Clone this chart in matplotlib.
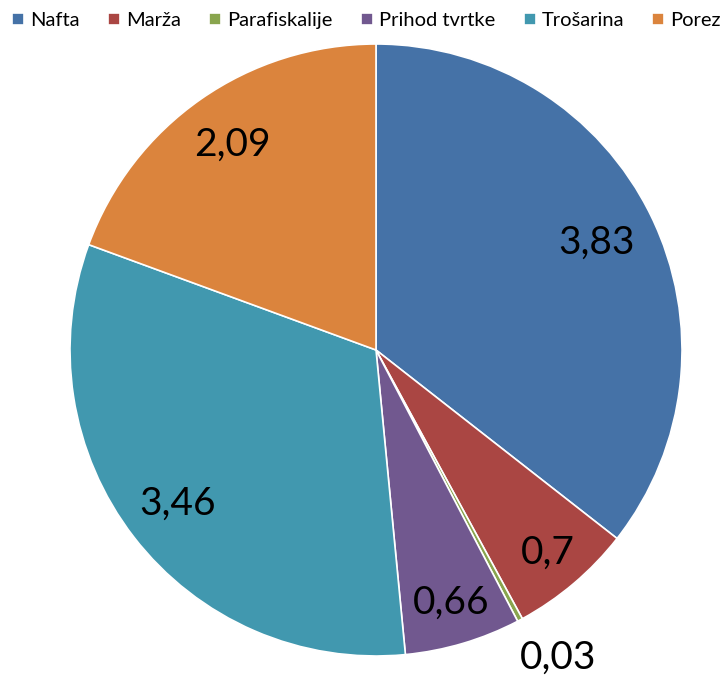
import numpy as np
import matplotlib.pyplot as plt

plt.rcParams['font.family'] = ['Lato', 'DejaVu Sans']

# slice data
categories = ['Nafta', 'Marža', 'Parafiskalije', 'Prihod tvrtke', 'Trošarina', 'Porez']
values = [3.83, 0.7, 0.03, 0.66, 3.46, 2.09]
value_labels = ['3,83', '0,7', '0,03', '0,66', '3,46', '2,09']
colors = ['#4572A7', '#AA4643', '#89A54E', '#71588F', '#4198AF', '#DB843D']
label_dist = [0.80, 0.87, 1.14, 0.86, 0.82, 0.82]
# small outside label sits a bit to the right of its thin slice
label_shift = [0, 0, 0.06, 0, 0, 0]

fig = plt.figure(figsize=(7.26, 6.75), dpi=100)
ax = fig.add_axes([70 / 726, 19 / 675, 612 / 726, 612 / 675])

wedges, _ = ax.pie(values, colors=colors, startangle=90, counterclock=False,
                   radius=1.0, wedgeprops=dict(edgecolor='white', linewidth=1.2))
ax.set_xlim(-1, 1)
ax.set_ylim(-1, 1)
ax.set_aspect('equal')

# value labels placed along each wedge's mid angle
for w, txt, d, dx in zip(wedges, value_labels, label_dist, label_shift):
    mid = np.deg2rad((w.theta1 + w.theta2) / 2)
    ax.text(d * np.cos(mid) + dx, d * np.sin(mid), txt, ha='center', va='center',
            fontsize=28, color='black', clip_on=False)

fig.legend(wedges, categories, loc='upper center', bbox_to_anchor=(0.505, 1.0),
           ncol=6, frameon=False, fontsize=14.5, handlelength=0.6, handleheight=0.6,
           handletextpad=0.3, columnspacing=1.4, borderaxespad=0.2)

fig.savefig('out.png', dpi=100)
